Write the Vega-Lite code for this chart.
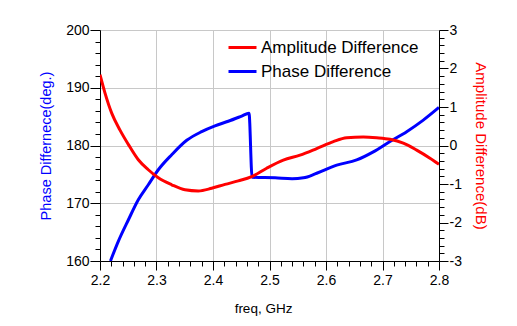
{
  "$schema": "https://vega.github.io/schema/vega-lite/v6.json",
  "autosize": "none",
  "width": 339,
  "height": 231,
  "padding": {"left": 100, "top": 30, "right": 78, "bottom": 65},
  "background": "white",
  "config": {
    "view": {"stroke": null},
    "font": "Liberation Sans",
    "axis": {
      "labelFont": "Liberation Sans",
      "labelFontSize": 14,
      "labelColor": "#000",
      "titleFont": "Liberation Sans",
      "titleFontWeight": "normal",
      "domainColor": "#000",
      "tickColor": "#000",
      "gridColor": "#c8c8c8",
      "gridWidth": 1
    },
    "legend": {
      "labelFont": "Liberation Sans"
    }
  },
  "data": {
    "values": [
      {"freq": 2.2, "series": "Amplitude Difference", "value": 1.84},
      {"freq": 2.2089, "series": "Amplitude Difference", "value": 1.36},
      {"freq": 2.2207, "series": "Amplitude Difference", "value": 0.84},
      {"freq": 2.2354, "series": "Amplitude Difference", "value": 0.4},
      {"freq": 2.2501, "series": "Amplitude Difference", "value": 0.03},
      {"freq": 2.2678, "series": "Amplitude Difference", "value": -0.37},
      {"freq": 2.2855, "series": "Amplitude Difference", "value": -0.63},
      {"freq": 2.3032, "series": "Amplitude Difference", "value": -0.84},
      {"freq": 2.3269, "series": "Amplitude Difference", "value": -1.02},
      {"freq": 2.3504, "series": "Amplitude Difference", "value": -1.15},
      {"freq": 2.374, "series": "Amplitude Difference", "value": -1.18},
      {"freq": 2.3977, "series": "Amplitude Difference", "value": -1.11},
      {"freq": 2.4212, "series": "Amplitude Difference", "value": -1.01},
      {"freq": 2.4448, "series": "Amplitude Difference", "value": -0.92},
      {"freq": 2.4685, "series": "Amplitude Difference", "value": -0.81},
      {"freq": 2.495, "series": "Amplitude Difference", "value": -0.59},
      {"freq": 2.5244, "series": "Amplitude Difference", "value": -0.38},
      {"freq": 2.554, "series": "Amplitude Difference", "value": -0.25},
      {"freq": 2.5835, "series": "Amplitude Difference", "value": -0.08},
      {"freq": 2.613, "series": "Amplitude Difference", "value": 0.1},
      {"freq": 2.6366, "series": "Amplitude Difference", "value": 0.2},
      {"freq": 2.666, "series": "Amplitude Difference", "value": 0.22},
      {"freq": 2.6897, "series": "Amplitude Difference", "value": 0.2},
      {"freq": 2.7133, "series": "Amplitude Difference", "value": 0.16},
      {"freq": 2.7368, "series": "Amplitude Difference", "value": 0.06},
      {"freq": 2.7605, "series": "Amplitude Difference", "value": -0.12},
      {"freq": 2.784, "series": "Amplitude Difference", "value": -0.33},
      {"freq": 2.8, "series": "Amplitude Difference", "value": -0.49},
      {"freq": 2.2185, "series": "Phase Difference", "value": 160},
      {"freq": 2.2324, "series": "Phase Difference", "value": 163.4},
      {"freq": 2.2501, "series": "Phase Difference", "value": 167.1},
      {"freq": 2.2678, "series": "Phase Difference", "value": 170.6},
      {"freq": 2.2855, "series": "Phase Difference", "value": 173.2},
      {"freq": 2.3032, "series": "Phase Difference", "value": 175.8},
      {"freq": 2.3269, "series": "Phase Difference", "value": 178.4},
      {"freq": 2.3535, "series": "Phase Difference", "value": 180.9},
      {"freq": 2.38, "series": "Phase Difference", "value": 182.4},
      {"freq": 2.4035, "series": "Phase Difference", "value": 183.4},
      {"freq": 2.4271, "series": "Phase Difference", "value": 184.2},
      {"freq": 2.4508, "series": "Phase Difference", "value": 185.1},
      {"freq": 2.4637, "series": "Phase Difference", "value": 185.6},
      {"freq": 2.4692, "series": "Phase Difference", "value": 174.5},
      {"freq": 2.51, "series": "Phase Difference", "value": 174.4},
      {"freq": 2.54, "series": "Phase Difference", "value": 174.25},
      {"freq": 2.56, "series": "Phase Difference", "value": 174.4},
      {"freq": 2.5835, "series": "Phase Difference", "value": 175.2},
      {"freq": 2.619, "series": "Phase Difference", "value": 176.6},
      {"freq": 2.6543, "series": "Phase Difference", "value": 177.5},
      {"freq": 2.6837, "series": "Phase Difference", "value": 178.9},
      {"freq": 2.7133, "series": "Phase Difference", "value": 180.7},
      {"freq": 2.7428, "series": "Phase Difference", "value": 182.4},
      {"freq": 2.7722, "series": "Phase Difference", "value": 184.4},
      {"freq": 2.8, "series": "Phase Difference", "value": 186.6}
    ]
  },
  "encoding": {
    "x": {
      "field": "freq",
      "type": "quantitative",
      "scale": {"domain": [2.2, 2.8], "nice": false, "zero": false},
      "axis": {
        "orient": "bottom",
        "title": "freq, GHz",
        "titleFontSize": 13.5,
        "titleColor": "#000",
        "titleX": 163,
        "titleY": 47,
        "titleBaseline": "middle",
        "values": [2.2,2.22,2.24,2.26,2.28,2.3,2.32,2.34,2.36,2.38,2.4,2.42,2.44,2.46,2.48,2.5,2.52,2.54,2.56,2.58,2.6,2.62,2.64,2.66,2.68,2.7,2.72,2.74,2.76,2.78,2.8],
        "labelExpr": "abs(datum.value*10 - round(datum.value*10)) < 0.000001 ? format(datum.value, '.1f') : ''",
        "labelPadding": 3,
        "labelOverlap": false,
        "labelFlush": false,
        "tickSize": {"condition": {"test": "abs(datum.value*10 - round(datum.value*10)) < 0.000001", "value": 9}, "value": 5},
        "grid": true,
        "gridColor": {"condition": {"test": "abs(datum.value*10 - round(datum.value*10)) < 0.000001", "value": "#c8c8c8"}, "value": "transparent"}
      }
    }
  },
  "layer": [
    {
      "transform": [{"filter": "datum.series == 'Phase Difference'"}],
      "mark": {"type": "line", "strokeWidth": 3, "clip": true, "interpolate": "monotone"},
      "encoding": {
        "y": {
          "field": "value",
          "type": "quantitative",
          "scale": {"domain": [160, 200], "nice": false, "zero": false},
          "axis": {
            "orient": "left",
            "title": "Phase Differnece(deg.)",
            "titleColor": "#0000ff",
            "titleFontSize": 14.5,
            "titleX": -54,
            "titleY": 115.5,
            "titleAngle": -90,
            "titleBaseline": "middle",
            "titleAlign": "center",
            "values": [160,162,164,166,168,170,172,174,176,178,180,182,184,186,188,190,192,194,196,198,200],
            "labelExpr": "datum.value % 10 == 0 ? '' + datum.value : ''",
            "labelPadding": 1,
            "labelOverlap": false,
            "labelFlush": false,
            "tickSize": {"condition": {"test": "datum.value % 10 == 0", "value": 10}, "value": 5},
            "grid": true,
            "gridColor": {"condition": {"test": "datum.value % 10 == 0", "value": "#c8c8c8"}, "value": "transparent"}
          }
        },
        "color": {
          "field": "series",
          "type": "nominal",
          "scale": {"domain": ["Amplitude Difference", "Phase Difference"], "range": ["#ff0000", "#0000ff"]},
          "legend": {
            "title": null,
            "orient": "none",
            "legendX": 127,
            "legendY": 2,
            "symbolType": "stroke",
            "symbolSize": 784,
            "symbolStrokeWidth": 3,
            "labelFontSize": 17,
            "labelColor": "#000",
            "labelOffset": 3,
            "rowPadding": 0,
            "padding": 0
          }
        }
      }
    },
    {
      "transform": [{"filter": "datum.series == 'Amplitude Difference'"}],
      "mark": {"type": "line", "strokeWidth": 3, "clip": true, "interpolate": "monotone"},
      "encoding": {
        "y": {
          "field": "value",
          "type": "quantitative",
          "scale": {"domain": [-3, 3], "nice": false, "zero": false},
          "axis": {
            "orient": "right",
            "title": "Amplitude Difference(dB)",
            "titleColor": "#ff0000",
            "titleFontSize": 15,
            "titleX": 41,
            "titleY": 115.5,
            "titleAngle": 90,
            "titleBaseline": "middle",
            "titleAlign": "center",
            "values": [-3,-2.8,-2.6,-2.4,-2.2,-2,-1.8,-1.6,-1.4,-1.2,-1,-0.8,-0.6,-0.4,-0.2,0,0.2,0.4,0.6,0.8,1,1.2,1.4,1.6,1.8,2,2.2,2.4,2.6,2.8,3],
            "labelExpr": "abs(datum.value - round(datum.value)) < 0.000001 ? '' + round(datum.value) : ''",
            "labelPadding": 1,
            "labelOverlap": false,
            "labelFlush": false,
            "tickSize": {"condition": {"test": "abs(datum.value - round(datum.value)) < 0.000001", "value": 9}, "value": 5},
            "grid": false
          }
        },
        "color": {
          "field": "series",
          "type": "nominal"
        }
      }
    }
  ],
  "resolve": {"scale": {"y": "independent"}}
}
